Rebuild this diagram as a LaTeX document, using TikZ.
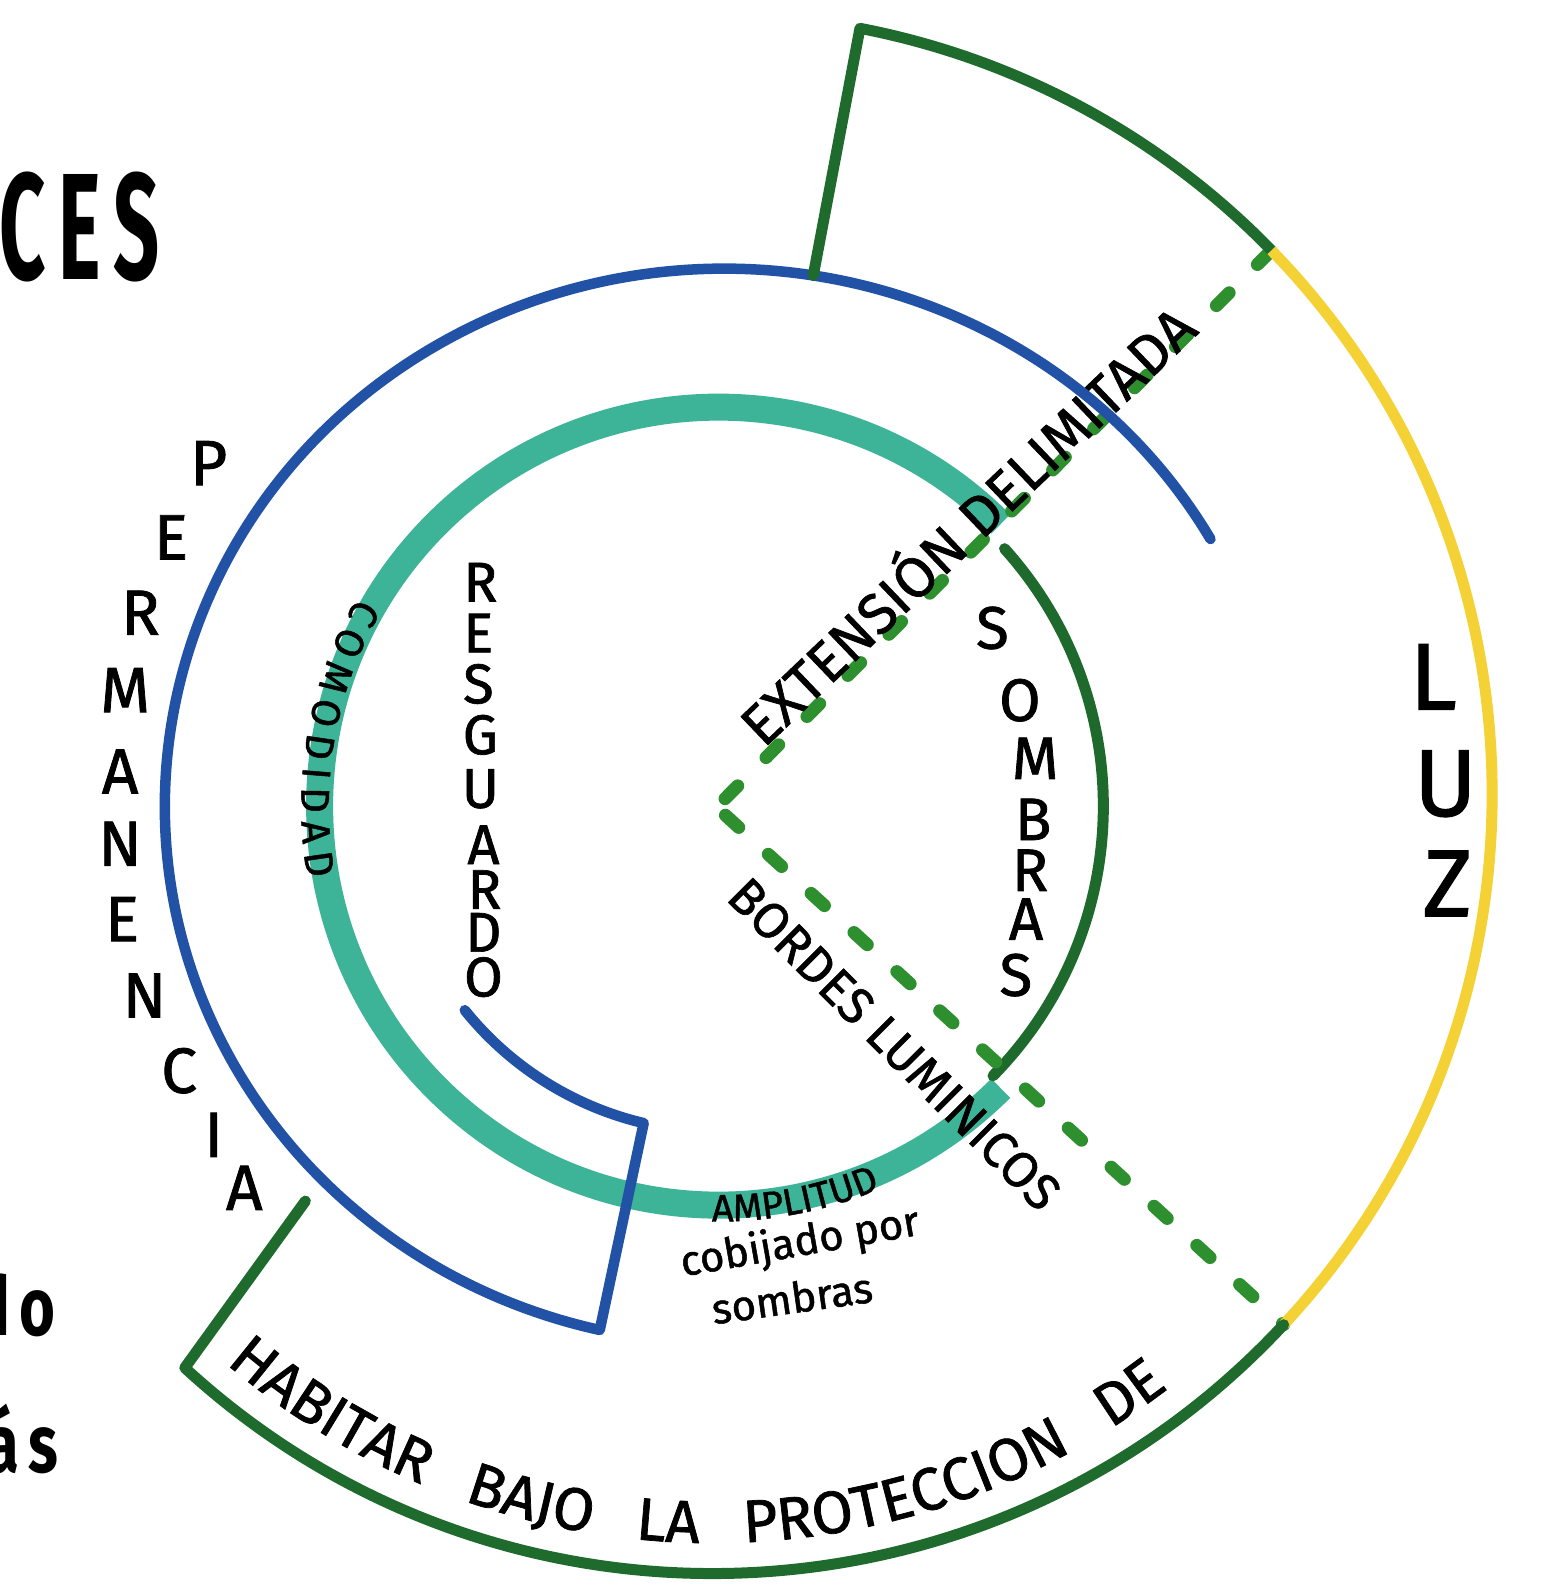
\documentclass[tikz,border=0pt]{standalone}
\usepackage{fontspec}
\setmainfont{Fira Sans}
\newfontfamily\hand{Fira Sans}[FakeBold=1.2]
\newfontfamily\titlefont{Fira Sans}[LetterSpace=16]
\usetikzlibrary{calc,decorations.text}
\definecolor{ringgreen}{HTML}{1F6B2E}
\definecolor{ringyellow}{HTML}{F4D235}
\definecolor{ringblue}{HTML}{2152A6}
\definecolor{ringteal}{HTML}{3DB398}
\definecolor{dashgreen}{HTML}{2E8F2E}
\definecolor{shadegreen}{HTML}{1E6A2C}
\newcommand\capfit[3]{\resizebox{#1}{#2}{\raisebox{0pt}[\fontcharht\font`E][0pt]{#3}}}
\begin{document}
\begin{tikzpicture}[x=1.0177pt,y=1.0177pt,
  greenline/.style={draw=ringgreen,line width=11pt,line cap=round,line join=round},
  yellowline/.style={draw=ringyellow,line width=11pt,line cap=butt},
  blueline/.style={draw=ringblue,line width=10.5pt,line cap=round,line join=round},
  tealline/.style={draw=ringteal,line width=27pt,line cap=butt},
  shadeline/.style={draw=shadegreen,line width=11pt,line cap=round},
  dashline/.style={draw=dashgreen,line width=13pt,line cap=round,dash pattern=on 18pt off 40pt,dash phase=-12pt},
  letter/.style={inner sep=0pt,text=black,font=\hand\fontsize{64}{64}\selectfont},
  bigletter/.style={inner sep=0pt,text=black,font=\hand\fontsize{95}{95}\selectfont},
  midletter/.style={inner sep=0pt,text=black,font=\hand\fontsize{60}{60}\selectfont},
  resletter/.style={inner sep=0pt,text=black,font=\hand\fontsize{56}{56}\selectfont},
  label/.style={inner sep=0pt,text=black}]
\fill[white] (0,0) rectangle (1529,1568);
\useasboundingbox (0,0) rectangle (1529,1568);
% centres
\coordinate (O) at (706,776);
\coordinate (Oo) at (700,788);
\coordinate (Ob) at (712,776);
\coordinate (V) at (704,775);
\coordinate (ue) at ($(Oo)+(44.2:766)$);
\coordinate (le) at ($(Oo)+(-42.9:766)$);
\coordinate (bumpin) at ($(Ob)+(80.9:550 and 528)$);
\coordinate (bumpout) at ($(Oo)+(79.1:766)$);
\coordinate (greentail) at (300,388);
\coordinate (bluecorner) at ($(O)+(256.7:320)$);
% teal ring
\draw[tealline] ($(O)+(45:392)$) arc[start angle=45,end angle=315,radius=392];
% sombras arc
\draw[shadeline] ($(O)+(42:378)$) arc[start angle=42,end angle=-44.5,radius=378];
% dashed lines
\draw[dashline] (V) -- (ue);
\draw[dashline] (V) -- (le);
% curved labels
\path[decorate,decoration={text along path,text align={fit to path},
  text={|\hand\fontsize{40}{40}\selectfont|COMODIDAD}}]
  ($(O)+(150:410)$) arc[start angle=150,end angle=190,radius=410];
\path[decorate,decoration={text along path,text align=center,
  text={|\hand\fontsize{38}{38}\selectfont|AMPLITUD}}]
  ($(O)+(264:408)$) arc[start angle=264,end angle=298,radius=408];
\path[decorate,decoration={text along path,text align={fit to path stretching spaces},
  text={|\hand\fontsize{60}{60}\selectfont|HABITAR BAJO LA PROTECCION DE}}]
  ($(Oo)+(229.5:736)$) arc[start angle=229.5,end angle=307.5,radius=736];
% straight labels
\node[label,font=\hand\fontsize{58}{58}\selectfont,rotate=43.7,anchor=west] (ext) at (737,846)
  {\capfit{603pt}{!}{EXTENSIÓN DELIMITADA}};
\node[label,font=\hand\fontsize{52}{52}\selectfont,rotate=-45,anchor=west] (bor) at (724,697)
  {\capfit{445pt}{!}{BORDES LUMINICOS}};
\node[label,font=\hand\fontsize{42}{42}\selectfont,rotate=10] (cob) at (786,346) {cobijado por};
\node[label,font=\hand\fontsize{42}{42}\selectfont,rotate=8] (som) at (778,293) {sombras};
% single letters
\foreach \ch/\x/\y [count=\i] in {P/205/1113,E/168/1040,R/138/966,M/123/890,A/118/810,N/118/739,E/120/665,N/142/590,C/176/516,I/210/453,A/240/401}
  \node[letter] (perm\i) at (\x,\y) {\ch};
\foreach \ch/\x/\y [count=\i] in {R/472/996,E/470/946,S/470/896,G/472/846,U/472/793,A/475/738,R/476/694,D/475/652,O/475/608}
  \node[resletter] (resg\i) at (\x,\y) {\ch};
\foreach \ch/\x/\y [count=\i] in {S/975/951,O/1002/880,M/1017/823,B/1015/763,R/1012/713,A/1008/665,S/998/610}
  \node[midletter] (somb\i) at (\x,\y) {\ch};
\foreach \ch/\x/\y [count=\i] in {L/1408/903,U/1420/798,Z/1422/700}
  \node[bigletter] (luz\i) at (\x,\y) {\ch};
% blue ring with inner return
\draw[blueline] ($(Ob)+(29.8:550 and 528)$) arc[start angle=29.8,end angle=257.1,x radius=550,y radius=528]
  -- (bluecorner) arc[start angle=256.7,end angle=218.8,radius=320];
% outer ring
\draw[greenline] (bumpin) -- (bumpout) arc[start angle=79.1,end angle=44.2,radius=766];
\draw[yellowline] (ue) arc[start angle=44.2,end angle=-42.9,radius=766];
\draw[greenline] (le) arc[start angle=-42.9,end angle=-132.6,radius=766] -- (greentail);
% cut-off title texts
\node[label,anchor=base east] (ces) at (157,1293)
  {\resizebox{160pt}{105pt}{\titlefont\bfseries\raisebox{0pt}[\fontcharht\font`E][0pt]{CES}}};
\node[label,anchor=base east,font=\titlefont\fontsize{82}{82}\selectfont\bfseries] (do) at (55,256)
  {\scalebox{0.75}[1]{do}};
\node[label,anchor=base east,font=\titlefont\fontsize{82}{82}\selectfont\bfseries] (as) at (57,121)
  {\scalebox{0.75}[1]{ás}};
\end{tikzpicture}
\end{document}
